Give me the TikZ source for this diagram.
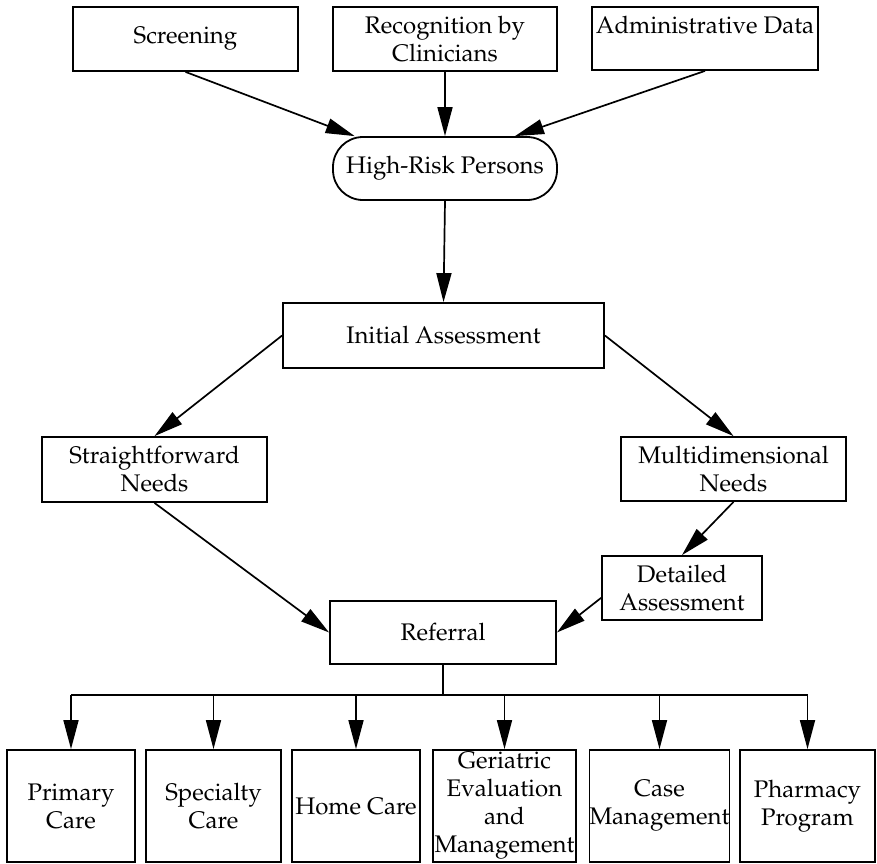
\documentclass[tikz,border=0pt]{standalone}
\usepackage[T1]{fontenc}
\usepackage{mathpazo}
\usetikzlibrary{arrows.meta,calc}
\tikzset{
  box/.style={draw, line width=1.8pt, inner sep=0pt, align=center,
    font=\fontsize{24}{28}\selectfont},
  rbox/.style={box, rounded corners=30pt},
  arr/.style={line width=1.7pt, -{Triangle[length=29pt,width=15pt]}},
  ln/.style={line width=1.7pt}
}
\begin{document}
\begin{tikzpicture}[x=1pt,y=-1pt]
\useasboundingbox (0,0) rectangle (877,863);
% top row
\node[box, minimum width=225pt, minimum height=64pt] (scr) at (185.5,39) {Screening};
\node[box, minimum width=224pt, minimum height=64pt] (rec) at (445,39) {Recognition by\\Clinicians};
\node[box, minimum width=226pt, minimum height=63pt] (adm) at (705,38.5) {Administrative Data\\\mbox{}};
% high risk
\node[rbox, minimum width=224pt, minimum height=63pt] (hrp) at (445,168.5) {High-Risk Persons};
% initial assessment
\node[box, minimum width=321pt, minimum height=65pt] (ia) at (443.5,335.5) {Initial Assessment};
% needs
\node[box, minimum width=225pt, minimum height=65pt] (sn) at (154.5,469.5) {Straightforward\\Needs};
\node[box, minimum width=225pt, minimum height=64pt] (mn) at (733.5,469) {Multidimensional\\Needs};
\node[box, minimum width=160pt, minimum height=64pt] (da) at (682,588) {Detailed\\Assessment};
\node[box, minimum width=226pt, minimum height=63pt] (ref) at (443,632.5) {Referral};
% bottom row
\node[box, minimum width=128pt, minimum height=112pt] (pc) at (71,806) {Primary\\Care};
\node[box, minimum width=135pt, minimum height=112pt] (sc) at (213.5,806) {Specialty\\Care};
\node[box, minimum width=128pt, minimum height=112pt] (hc) at (356,806) {Home Care};
\node[box, minimum width=143pt, minimum height=112pt] (ge) at (504.5,806) {Geriatric\\Evaluation\\and\\Management};
\node[box, minimum width=139pt, minimum height=112pt] (cm) at (659.5,806) {Case\\Management};
\node[box, minimum width=135pt, minimum height=112pt] (pp) at (807.5,806) {Pharmacy\\Program};
\coordinate (bus) at (443,695);
% connectors
\draw[arr] (scr.south) -- ($(hrp.north west)!0.1!(hrp.north east)$);
\draw[arr] (rec.south) -- (hrp.north);
\draw[arr] (adm.south) -- ($(hrp.north west)!0.81!(hrp.north east)$);
\draw[arr] (hrp.south) -- (ia.north);
\draw[arr] (ia.west) -- (sn.north);
\draw[arr] (ia.east) -- (mn.north);
\draw[arr] (sn.south) -- (ref.west);
\draw[arr] (mn.south) -- (da.north);
\draw[arr] ($(da.west)!0.3!(da.south west)$) -- (ref.east);
\draw[ln] (ref.south) -- (ref.south |- bus);
\draw[ln] (pc.north |- bus) -- (pp.north |- bus);
\foreach \n in {pc,sc,hc,ge,cm,pp}
  \draw[arr] (\n.north |- bus) -- (\n.north);
\end{tikzpicture}
\end{document}
